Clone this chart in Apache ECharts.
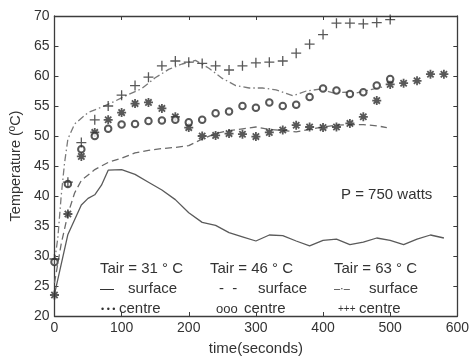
<!DOCTYPE html>
<html><head><meta charset="utf-8">
<script src="https://cdn.jsdelivr.net/npm/echarts@6/dist/echarts.min.js"></script>
<style>html,body{margin:0;padding:0;background:#fff}#c{width:472px;height:361px}</style>
</head><body><div id="c"></div>
<script>
// ---- data ----
const xTicks = [0, 100, 200, 300, 400, 500, 600];
const yTicks = [20, 25, 30, 35, 40, 45, 50, 55, 60, 65, 70];

// Tair = 31 °C surface (solid)
const s31T = [0,20,40,50,60,70,80,100,120,140,160,180,200,220,240,260,280,300,320,340,360,380,400,420,440,460,480,500,520,540,560,580];
const s31Y = [23.6,33.6,38.5,39.6,40.2,41.8,44.3,44.4,43.6,42.3,41.0,39.4,37.2,35.6,35.1,33.9,33.2,32.5,33.5,33.4,32.5,31.7,32.6,32.8,31.9,32.3,33.0,32.6,31.9,32.8,33.5,33.0];

// Tair = 46 °C surface (dashed)
const s46T = [0,10,20,30,40,60,80,100,120,140,160,180,200,220,240,260,280,300,320,340,360,380,400,420,440,460,480,495];
const s46Y = [25.5,32.0,37.0,40.5,42.6,44.4,45.6,46.3,47.2,47.6,47.9,48.1,48.4,49.5,50.4,50.9,51.2,51.5,51.1,50.9,50.7,51.1,51.5,51.8,51.9,51.9,51.7,51.4];

// Tair = 63 °C surface (dash-dot)
const s63T = [0,5,10,15,20,30,50,70,90,110,130,150,170,190,210,230,250,270,290,310,330,355,375,395,415,435,450,470,490];
const s63Y = [29.0,33.0,40.0,45.5,49.5,52.0,53.9,54.8,55.8,56.9,57.9,59.7,61.1,62.0,62.6,61.3,59.6,58.4,58.0,58.0,57.7,56.7,57.5,57.8,57.2,57.3,57.2,57.7,58.2];

// Tair = 31 °C centre (asterisks)
const c31T = [0,20,40,60,80,100,120,140,160,180,200,220,240,260,280,300,320,340,360,380,400,420,440,460,480,500,520,540,560,580];
const c31Y = [23.5,37.0,46.6,50.6,52.7,53.9,55.4,55.6,54.6,53.2,51.4,50.0,50.1,50.4,50.3,49.9,50.6,51.0,51.8,51.5,51.4,51.5,52.1,53.2,55.9,58.6,58.8,59.2,60.3,60.3];

// Tair = 46 °C centre (circles)
const c46T = [0,20,40,60,80,100,120,140,160,180,200,220,240,260,280,300,320,340,360,380,400,420,440,460,480,500];
const c46Y = [29.0,42.0,47.8,50.0,51.2,51.9,52.0,52.5,52.6,52.7,52.3,52.7,53.8,54.1,55.0,54.7,55.6,55.0,55.2,56.5,57.9,57.6,57.0,57.3,58.4,59.5];

// Tair = 63 °C centre (plus)
const c63T = [0,20,40,60,80,100,120,140,160,180,200,220,240,260,280,300,320,340,360,380,400,420,440,460,480,500];
const c63Y = [29.5,42.3,48.9,52.7,55.0,56.8,58.4,59.8,61.7,62.5,62.3,62.1,61.7,61.0,61.7,62.2,62.3,62.5,63.8,65.3,66.9,68.8,68.8,68.7,68.9,69.4];

// ---- chart ----
const FONT = '"Liberation Sans", Arial, Helvetica, sans-serif';
const TXT = '#333';
const AX = '#3c3c3c';
const MK = '#2e2e2e';
const pair = (xs, ys) => xs.map((x, i) => [x, ys[i]]);

const chart = echarts.init(document.getElementById('c'), null, {renderer: 'canvas'});

function xAx(pos, labels) {
  return {
    type: 'value', position: pos, min: xTicks[0], max: xTicks[xTicks.length - 1], interval: 100,
    axisLine: {show: true, onZero: false, lineStyle: {color: AX, width: 1.3}},
    axisTick: {show: true, inside: true, length: 4, lineStyle: {color: AX, width: 1}},
    axisLabel: {show: labels, color: TXT, fontSize: 14, fontFamily: FONT, margin: 5},
    splitLine: {show: false},
    name: labels ? 'time(seconds)' : '', nameLocation: 'middle', nameGap: 25,
    nameTextStyle: {color: TXT, fontSize: 15, fontFamily: FONT}
  };
}
function yAx(pos, labels) {
  return {
    type: 'value', position: pos, min: yTicks[0], max: yTicks[yTicks.length - 1], interval: 5,
    axisLine: {show: true, onZero: false, lineStyle: {color: AX, width: 1.3}},
    axisTick: {show: true, inside: true, length: 4, lineStyle: {color: AX, width: 1}},
    axisLabel: {show: labels, color: TXT, fontSize: 14, fontFamily: FONT, margin: 5},
    splitLine: {show: false},
    name: labels ? 'Temperature (ºC)' : '', nameLocation: 'middle', nameGap: 23,
    nameTextStyle: {color: TXT, fontSize: 14.5, fontFamily: FONT}
  };
}

const plusPath = 'path://M5,0L5,10M0,5L10,5';
const starPath = 'path://M0,5L10,5M5,0L5,10M1.5,1.5L8.5,8.5M8.5,1.5L1.5,8.5';

function lineSeries(name, xs, ys, type, color, width) {
  return {name, type: 'line', data: pair(xs, ys), showSymbol: false, symbol: 'none', smooth: false,
    lineStyle: {color, width, type}, z: 2, silent: true};
}
function markSeries(name, xs, ys, symbol, size, bw, fill) {
  return {name, type: 'scatter', data: pair(xs, ys), symbol, symbolSize: size, symbolKeepAspect: true,
    itemStyle: {color: fill, borderColor: MK, borderWidth: bw}, z: 3, silent: true};
}

function txt(text, x, y, size) {
  return {type: 'text', x, y, silent: true,
    style: {text, fill: TXT, fontSize: size || 15, fontFamily: FONT, verticalAlign: 'middle', align: 'left'}};
}

chart.setOption({
  animation: false,
  backgroundColor: '#fff',
  grid: {left: 53, right: 12, top: 16, bottom: 37},
  xAxis: [xAx('bottom', true), xAx('top', false)],
  yAxis: [yAx('left', true), yAx('right', false)],
  series: [
    lineSeries('surface 31', s31T, s31Y, 'solid', '#5a5a5a', 1.3),
    lineSeries('surface 46', s46T, s46Y, [7, 4], '#6a6a6a', 1.3),
    lineSeries('surface 63', s63T, s63Y, [7, 3, 1.5, 3], '#7a7a7a', 1.3),
    markSeries('centre 31', c31T, c31Y, starPath, 9, 1.8, 'none'),
    markSeries('centre 46', c46T, c46Y, 'emptyCircle', 6.5, 0.8, MK),
    markSeries('centre 63', c63T, c63Y, plusPath, 10, 1.3, 'none')
  ],
  graphic: [
    txt('P = 750 watts', 341, 195),
    txt('Tair = 31 ° C', 100, 269),
    txt('—', 100, 289, 14),
    txt('surface', 128, 289),
    txt('• • •', 101, 310, 9),
    txt('centre', 119, 309),
    txt('Tair = 46 ° C', 210, 269),
    txt('-  -', 219, 289, 15),
    txt('surface', 258, 289),
    txt('ooo', 216, 309, 13),
    txt('centre', 244, 309),
    txt('Tair = 63 ° C', 334, 269),
    txt('–·–', 334, 289, 11),
    txt('surface', 369, 289),
    txt('+++', 338, 309, 10),
    txt('centre', 359, 309)
  ]
});
</script>
</body></html>
